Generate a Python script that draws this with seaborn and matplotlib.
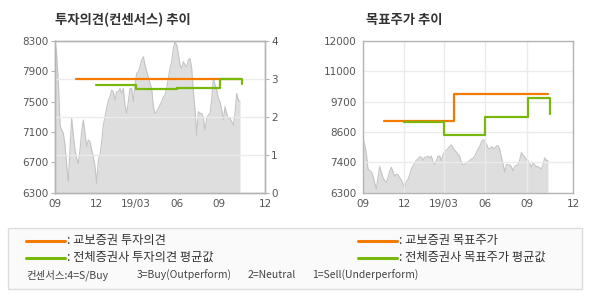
import numpy as np
import pandas as pd
import matplotlib
matplotlib.use("Agg")
import matplotlib.pyplot as plt
from matplotlib.lines import Line2D
from matplotlib.patches import Rectangle
import seaborn as sns

# ---------------- data ----------------
price = [8312, 8114, 7763, 7192, 7126, 7082, 6928, 6665, 6445, 6884,
         7280, 7060, 6862, 6752, 6687, 6862, 7104, 7258, 7082, 6906,
         6994, 6972, 6862, 6775, 6643, 6423, 6731, 6797, 6972, 7192,
         7302, 7412, 7521, 7565, 7653, 7631, 7521, 7631, 7631, 7675,
         7609, 7675, 7456, 7346, 7500, 7675, 7675, 7500, 7719, 7873,
         7895, 7961, 8049, 8092, 7983, 7895, 7829, 7741, 7675, 7434,
         7346, 7368, 7412, 7456, 7500, 7565, 7587, 7675, 7807, 7939,
         8027, 8202, 8290, 8246, 8136, 7983, 7939, 8027, 7983, 7961,
         8049, 8071, 7939, 7631, 7390, 7060, 7368, 7346, 7346, 7280,
         7126, 7280, 7324, 7346, 7521, 7807, 7719, 7653, 7543, 7500,
         7390, 7258, 7434, 7346, 7280, 7280, 7236, 7192, 7346, 7609,
         7521, 7500]
price_x = np.arange(len(price)) * 5

opinion_kb_x = [64, 555]
opinion_kb = [3.0, 3.0]
opinion_avg_x = [123, 243, 367, 496, 562]
opinion_avg = [2.84, 2.74, 2.77, 3.0, 2.86]

target_kb_x = [64, 272, 555]
target_kb = [9000, 10000, 10000]
target_avg_x = [123, 243, 367, 496, 562]
target_avg = [8950, 8450, 9150, 9870, 9250]

x_tick_pos = [0, 123, 243, 366, 492, 630]
x_tick_labels = ["09", "12", "19/03", "06", "09", "12"]
left_yticks = [6300, 6700, 7100, 7500, 7900, 8300]
opinion_ticks = [0, 1, 2, 3, 4]
target_tick_labels = ["6300", "7400", "8600", "9700", "11000", "12000"]

title_left = "투자의견(컨센서스) 추이"
title_right = "목표주가 추이"
legend_labels = [": 교보증권 투자의견", ": 전체증권사 투자의견 평균값",
                 ": 교보증권 목표주가", ": 전체증권사 목표주가 평균값"]
consensus_parts = ["컨센서스:4=S/Buy", "3=Buy(Outperform)", "2=Neutral",
                   "1=Sell(Underperform)"]

# ---------------- style ----------------
sns.set_style("white")
plt.rcParams["font.family"] = ["Noto Sans CJK KR", "DejaVu Sans"]

ORANGE = "#f47a00"
GREEN = "#78b80a"
FILL = "#dedede"
EDGE = "#c4c4c4"
GRID = "#ebebeb"
SPINE = "#b4b4b4"
TICKC = "#555555"

W, H = 590, 300
fig = plt.figure(figsize=(W / 100, H / 100), dpi=100)
fig.patch.set_facecolor("white")

df_price = pd.DataFrame({"x": price_x, "price": price})


def style_axis(ax):
    for s in ax.spines.values():
        s.set_color(SPINE)
        s.set_linewidth(1.0)
    ax.tick_params(colors=SPINE, labelcolor=TICKC, labelsize=7.5, length=3,
                   width=0.8, pad=1.5, direction="out")
    ax.set_xlabel("")
    ax.set_ylabel("")


axpos_l = [55 / W, 1 - 192.7 / H, 210 / W, 151.7 / H]
axpos_r = [363 / W, 1 - 192.7 / H, 210 / W, 151.7 / H]

# ---------------- left chart ----------------
ax1 = fig.add_axes(axpos_l)
ax1.fill_between(price_x, price, 6300, color=FILL, lw=0, zorder=1)
sns.lineplot(data=df_price, x="x", y="price", ax=ax1, color=EDGE, lw=0.8,
             zorder=1.2)
ax1.set_xlim(0, 630)
ax1.set_ylim(6300, 8300)
ax1.set_yticks(left_yticks)
ax1.set_yticklabels([str(v) for v in left_yticks], family="DejaVu Sans")
ax1.set_xticks(x_tick_pos)
ax1.set_xticklabels(x_tick_labels, family="DejaVu Sans")
ax1.grid(False)
style_axis(ax1)

ax2 = ax1.twinx()
ax2.set_ylim(0, 4)
ax2.set_yticks(opinion_ticks)
ax2.set_yticklabels([str(v) for v in opinion_ticks], family="DejaVu Sans")
ax2.set_xlim(0, 630)
ax2.set_xticks(x_tick_pos)
ax2.set_axisbelow("line")
ax2.grid(True, color=GRID, lw=1.0)
sns.lineplot(x=opinion_kb_x, y=opinion_kb, ax=ax2, color=ORANGE, lw=1.6,
             drawstyle="steps-post", zorder=3)
sns.lineplot(x=opinion_avg_x, y=opinion_avg, ax=ax2, color=GREEN, lw=1.6,
             drawstyle="steps-post", zorder=3)
style_axis(ax2)

# ---------------- right chart ----------------
ax3 = fig.add_axes(axpos_r)
ax3.fill_between(price_x, price, 6300, color=FILL, lw=0, zorder=1)
sns.lineplot(data=df_price, x="x", y="price", ax=ax3, color=EDGE, lw=0.8,
             zorder=1.2)
ax3.set_xlim(0, 630)
ax3.set_ylim(6300, 12000)
ax3.set_yticks(np.linspace(6300, 12000, len(target_tick_labels)))
ax3.set_yticklabels(target_tick_labels, family="DejaVu Sans")
ax3.set_xticks(x_tick_pos)
ax3.set_xticklabels(x_tick_labels, family="DejaVu Sans")
ax3.set_axisbelow("line")
ax3.grid(True, color=GRID, lw=1.0, zorder=1.5)
sns.lineplot(x=target_kb_x, y=target_kb, ax=ax3, color=ORANGE, lw=1.6,
             drawstyle="steps-post", zorder=3)
sns.lineplot(x=target_avg_x, y=target_avg, ax=ax3, color=GREEN, lw=1.6,
             drawstyle="steps-post", zorder=3)
style_axis(ax3)

# ---------------- titles ----------------
fig.text(55 / W, 1 - 20 / H, title_left, fontsize=9.6, fontweight="bold",
         color="#333333", va="center", ha="left")
fig.text(366 / W, 1 - 20 / H, title_right, fontsize=9.6, fontweight="bold",
         color="#333333", va="center", ha="left")

# ---------------- legend box ----------------
fig.patches.append(Rectangle((8 / W, 1 - 289 / H), 574 / W, 61 / H,
                             transform=fig.transFigure, facecolor="#fafafa",
                             edgecolor="#dcdcdc", lw=1.0, zorder=0))
leg_rows = [240.5, 257.5]
for col, (x0, x1, xt) in enumerate([(26, 65, 67), (358, 397, 399)]):
    for row, color in enumerate([ORANGE, GREEN]):
        y = 1 - leg_rows[row] / H
        fig.lines.append(Line2D([x0 / W, x1 / W], [y, y], color=color, lw=2.2,
                                transform=fig.transFigure))
        fig.text(xt / W, y, legend_labels[col * 2 + row], fontsize=8.8,
                 color="#333333", va="center", ha="left")

for xt, txt in zip([26.5, 136.5, 248, 312], consensus_parts):
    fig.text(xt / W, 1 - 275.5 / H, txt, fontsize=7.5, color="#444444",
             va="center", ha="left")

fig.savefig("out.png", dpi=100, facecolor="white")
